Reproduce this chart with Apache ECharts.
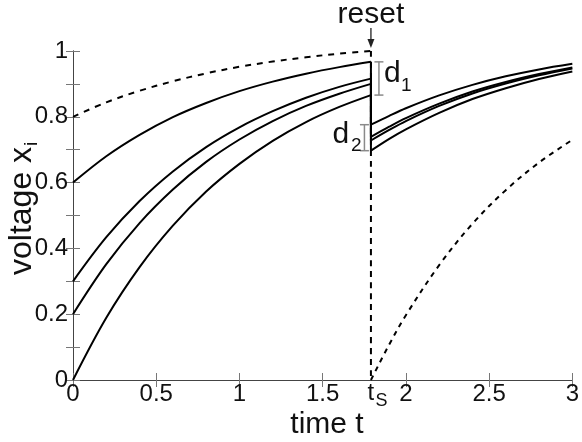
<!DOCTYPE html>
<html>
<head>
<meta charset="utf-8">
<script src="https://cdn.jsdelivr.net/npm/echarts@6/dist/echarts.min.js"></script>
<style>
html,body{margin:0;padding:0;background:#fff;}
#c{width:582px;height:442px;}
</style>
</head>
<body>
<div id="c"></div>
<script>
// ---- data ----
const ts = 1.79; // spike / reset time t_S
const tLeft = [0, 0.2, 0.4, 0.6, 0.8, 1.0, 1.2, 1.4, 1.6, 1.79];
const dashedLeft = [0.80, 0.844, 0.879, 0.908, 0.932, 0.952, 0.968, 0.981, 0.992, 1.00];
const curveALeft = [0.60, 0.680, 0.745, 0.799, 0.842, 0.878, 0.907, 0.931, 0.951, 0.967];
const curveBLeft = [0.30, 0.434, 0.544, 0.634, 0.708, 0.768, 0.817, 0.858, 0.891, 0.916];
const curveCLeft = [0.20, 0.352, 0.477, 0.579, 0.663, 0.731, 0.787, 0.833, 0.870, 0.900];
const curveDLeft = [0.00, 0.189, 0.343, 0.469, 0.573, 0.657, 0.727, 0.784, 0.830, 0.866];

const tRight = [1.79, 1.9, 2.0, 2.2, 2.4, 2.6, 2.8, 3.0];
const curveARight = [0.776, 0.803, 0.826, 0.865, 0.897, 0.923, 0.944, 0.961];
const curveBRight = [0.739, 0.770, 0.796, 0.840, 0.877, 0.906, 0.930, 0.950];
const curveCRight = [0.728, 0.760, 0.787, 0.833, 0.871, 0.901, 0.926, 0.947];
const curveDRight = [0.697, 0.733, 0.762, 0.812, 0.854, 0.887, 0.915, 0.938];
const dashedRight = [0.000, 0.108, 0.197, 0.349, 0.475, 0.577, 0.661, 0.730];

const xTickLabels = ['0', '0.5', '1', '1.5', '2', '2.5', '3'];
const yTickLabels = ['0', '0.2', '0.4', '0.6', '0.8', '1'];

// ---- helpers ----
const FONT = '"Liberation Sans", Arial, Helvetica, sans-serif';
const zip = (xs, ys) => xs.map((x, i) => [x, ys[i]]);
const last = a => a[a.length - 1];

function solid(data) {
  return { type: 'line', data: data, smooth: 0.35, symbol: 'none', silent: true,
    lineStyle: { color: '#000', width: 2 }, z: 3 };
}
function dashed(data, dash) {
  return { type: 'line', data: data, smooth: 0.35, symbol: 'none', silent: true,
    lineStyle: { color: '#000', width: 2, type: dash }, z: 2 };
}

const series = [
  dashed(zip(tLeft, dashedLeft), [6, 6]),
  dashed([[ts, 1], [ts, 0]], [6, 5]),
  dashed(zip(tRight, dashedRight), [5, 5]),
  solid(zip(tLeft, curveALeft)),
  solid(zip(tLeft, curveBLeft)),
  solid(zip(tLeft, curveCLeft)),
  solid(zip(tLeft, curveDLeft)),
  solid(zip(tRight, curveARight)),
  solid(zip(tRight, curveBRight)),
  solid(zip(tRight, curveCRight)),
  solid(zip(tRight, curveDRight)),
  // jumps at reset
  solid([[ts, last(curveALeft)], [ts, curveARight[0]]]),
  solid([[ts, last(curveBLeft)], [ts, curveBRight[0]]]),
  solid([[ts, last(curveCLeft)], [ts, curveCRight[0]]]),
  solid([[ts, last(curveDLeft)], [ts, curveDRight[0]]]),
  {
    type: 'custom', silent: true, clip: false, z: 5,
    data: [[ts, 1]],
    renderItem: function (params, api) {
      const x = api.coord([ts, 1])[0];
      const y0 = api.coord([ts, 0])[1];
      const d1Top = api.coord([ts, last(curveALeft)])[1];
      const d1Bot = api.coord([ts, last(curveDLeft)])[1];
      const d2Top = api.coord([ts, curveARight[0]])[1];
      const d2Bot = api.coord([ts, curveDRight[0]])[1];
      const gray = { stroke: '#8a8a8a', lineWidth: 1.5 };
      function bracket(bx, t, b) {
        return [
          { type: 'line', shape: { x1: bx, y1: t, x2: bx, y2: b }, style: gray },
          { type: 'line', shape: { x1: bx - 4.5, y1: t, x2: bx + 4.5, y2: t }, style: gray },
          { type: 'line', shape: { x1: bx - 4.5, y1: b, x2: bx + 4.5, y2: b }, style: gray }
        ];
      }
      function txt(s, tx, ty, fs, align) {
        return { type: 'text', style: { text: s, x: tx, y: ty, fontSize: fs, fontFamily: FONT,
          fill: '#111', align: align || 'left', verticalAlign: 'middle' } };
      }
      const children = [].concat(
        [txt('reset', x, 15, 30, 'center'),
         { type: 'line', shape: { x1: x, y1: 28, x2: x, y2: 41 }, style: { stroke: '#222', lineWidth: 1.3 } },
         { type: 'polygon', shape: { points: [[x - 3.5, 39], [x + 3.5, 39], [x, 48]] }, style: { fill: '#222' } }],
        bracket(x + 8, d1Top, d1Bot),
        bracket(x - 6.5, d2Top, d2Bot),
        [txt('d', x + 13, d1Top + 11.5, 30), txt('1', x + 30, d1Top + 24, 19),
         txt('d', x - 38.5, d2Top + 10.5, 30), txt('2', x - 20, d2Top + 21, 19),
         txt('t', x, y0 + 13.5, 24, 'center'), txt('S', x + 4.5, y0 + 21, 18)]
      );
      return { type: 'group', children: children };
    }
  }
];

const axisLineStyle = { color: '#444', width: 1 };
const tickStyle = { color: '#777', width: 1 };

const option = {
  animation: false,
  backgroundColor: '#fff',
  grid: { left: 73, right: 7, top: 51, bottom: 62 },
  xAxis: [
    { type: 'value', min: 0, max: 3, interval: 0.5, position: 'bottom',
      axisLine: { show: true, lineStyle: axisLineStyle },
      axisTick: { show: true, inside: true, length: 7, lineStyle: tickStyle },
      splitLine: { show: false },
      axisLabel: { margin: 2, fontSize: 24, fontFamily: FONT, color: '#111',
        formatter: v => xTickLabels[Math.round(v * 2)] } },
    { type: 'value', min: 0, max: 3, interval: 0.5, position: 'top',
      axisLine: { show: true, lineStyle: axisLineStyle },
      axisTick: { show: true, inside: true, length: 7, lineStyle: tickStyle },
      splitLine: { show: false }, axisLabel: { show: false } }
  ],
  yAxis: [
    { type: 'value', min: 0, max: 1, interval: 0.1, position: 'left',
      axisLine: { show: true, lineStyle: axisLineStyle },
      axisTick: { show: true, inside: true, length: 7, lineStyle: tickStyle },
      splitLine: { show: false },
      axisLabel: { margin: 5, fontSize: 24, fontFamily: FONT, color: '#111',
        formatter: v => { const r = Math.round(v * 10); return r % 2 === 0 ? yTickLabels[r / 2] : ''; } } },
    { type: 'value', min: 0, max: 1, interval: 0.1, position: 'right',
      axisLine: { show: true, lineStyle: axisLineStyle },
      axisTick: { show: true, inside: true, length: 7, lineStyle: tickStyle },
      splitLine: { show: false }, axisLabel: { show: false } }
  ],
  graphic: [
    { type: 'text', x: 327, y: 425, silent: true,
      style: { text: 'time t', fontSize: 30, fontFamily: FONT, fill: '#111', align: 'center', verticalAlign: 'middle' } },
    { type: 'group', x: 22, y: 275, rotation: Math.PI / 2, silent: true,
      children: [
        { type: 'text', x: 0, y: 0, style: { text: 'voltage x', fontSize: 32, fontFamily: FONT, fill: '#111', align: 'left', verticalAlign: 'middle' } },
        { type: 'text', x: 129, y: 10, style: { text: 'i', fontSize: 19, fontFamily: FONT, fill: '#111', align: 'left', verticalAlign: 'middle' } }
      ] }
  ],
  series: series
};

const chart = echarts.init(document.getElementById('c'), null, { renderer: 'canvas' });
chart.setOption(option);
</script>
</body>
</html>
